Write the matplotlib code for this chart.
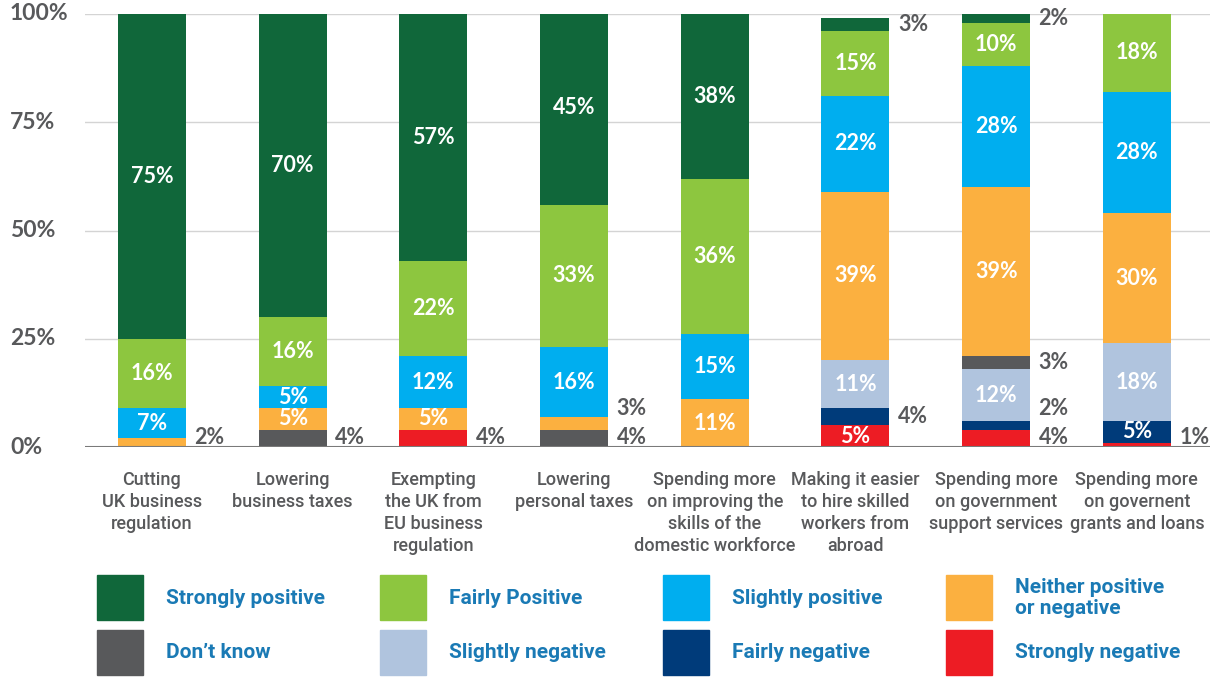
import matplotlib
matplotlib.use("Agg")
import matplotlib.pyplot as plt
from matplotlib.patches import Rectangle
from matplotlib import font_manager
import numpy as np

# ---------------- data ----------------
categories = [
    "Cutting\nUK business\nregulation",
    "Lowering\nbusiness taxes",
    "Exempting\nthe UK from\nEU business\nregulation",
    "Lowering\npersonal taxes",
    "Spending more\non improving the\nskills of the\ndomestic workforce",
    "Making it easier\nto hire skilled\nworkers from\nabroad",
    "Spending more\non government\nsupport services",
    "Spending more\non governent\ngrants and loans",
]
# bottom to top
series_names = ["Strongly negative", "Fairly negative", "Slightly negative", "Don\u2019t know",
                "Neither positive\nor negative", "Slightly positive", "Fairly Positive",
                "Strongly positive"]
strongly_neg = [0, 0, 4, 0, 0, 5, 4, 1]
fairly_neg = [0, 0, 0, 0, 0, 4, 2, 5]
slightly_neg = [0, 0, 0, 0, 0, 11, 12, 18]
dont_know = [0, 4, 0, 4, 0, 0, 3, 0]
neither = [2, 5, 5, 3, 11, 39, 39, 30]
slightly_pos = [7, 5, 12, 16, 15, 22, 28, 28]
fairly_pos = [16, 16, 22, 33, 36, 15, 10, 18]
strongly_pos = [75, 70, 57, 45, 38, 3, 2, 0]
yticks = [0, 25, 50, 75, 100]

series = [strongly_neg, fairly_neg, slightly_neg, dont_know, neither,
          slightly_pos, fairly_pos, strongly_pos]
colors = ["#ed1c24", "#003b7a", "#b0c4de", "#58595b", "#fbb040",
          "#00aeef", "#8dc63f", "#10673a"]

# ---------------- fonts ----------------
names = {f.name for f in font_manager.fontManager.ttflist}
narrow = "Liberation Sans Narrow" if "Liberation Sans Narrow" in names else "Roboto"
plt.rcParams["font.family"] = [narrow, "DejaVu Sans"]
num_font = ["Lato", "DejaVu Sans"]
gray = "#58595b"

W, H = 1210, 677
fig = plt.figure(figsize=(W / 100, H / 100), dpi=100)
ax = fig.add_axes([85 / W, 1 - 447 / H, 1 - 85 / W, (447 - 14) / H])

x = np.arange(len(categories))
bw = 0.483
bottom = np.zeros(len(categories))
for vals, c in zip(series, colors):
    ax.bar(x, vals, bw, bottom=bottom, color=c, zorder=2)
    bottom += np.array(vals)

ax.set_xlim(-0.476, 7.52)
ax.set_ylim(0, 100)
for t in yticks[1:]:
    ax.axhline(t, color="#d4d4d4", lw=1, zorder=1)
ax.axhline(0, color="#7a7a7a", lw=1.5, zorder=3)
for s in ax.spines.values():
    s.set_visible(False)
ax.set_xticks([])
ax.set_yticks([])

# y labels, left aligned at the figure edge
trans = matplotlib.transforms.blended_transform_factory(fig.transFigure, ax.transData)
for t in yticks:
    ax.text(10 / W, t, f"{t}%", transform=trans, ha="left", va="center",
            fontsize=16.5, color=gray, family=num_font, fontweight="bold")

# value labels
for i in range(len(categories)):
    base = 0
    prev_out = None
    for vals in series:
        v = vals[i]
        if v == 0:
            continue
        mid = base + v / 2
        if v >= 5:
            ax.text(x[i], mid, f"{v}%", ha="center", va="center", color="white",
                    fontsize=15.5, fontweight="bold", family=num_font, zorder=4)
        else:
            y = max(mid, 2.3)
            if prev_out is not None and y < prev_out + 6:
                y = prev_out + 6.5
            prev_out = y
            ax.text(x[i] + bw / 2 + 0.06, y, f"{v}%", ha="left", va="center",
                    color=gray, fontsize=15.5, fontweight="bold", family=num_font,
                    zorder=4, clip_on=False)
        base += v

# category labels
for i, lab in enumerate(categories):
    ax.text(x[i], -5.5, lab, ha="center", va="top", fontsize=13, color=gray,
            linespacing=1.3, fontweight="medium", clip_on=False)

# legend
legend_order = [7, 6, 5, 4, 3, 2, 1, 0]
col_x = [97, 380, 663, 946]
row_y = [575, 630]
for k, idx in enumerate(legend_order):
    r, c = divmod(k, 4)
    x0, y0 = col_x[c], row_y[r]
    fig.patches.append(Rectangle((x0 / W, 1 - (y0 + 45) / H), 46 / W, 45 / H,
                                 transform=fig.transFigure, color=colors[idx]))
    fig.text((x0 + 69) / W, 1 - (y0 + 23) / H, series_names[idx], ha="left",
             va="center", fontsize=15, color="#1a7ab5", fontweight="bold",
             linespacing=1.15)

fig.savefig("out.png", dpi=100)
